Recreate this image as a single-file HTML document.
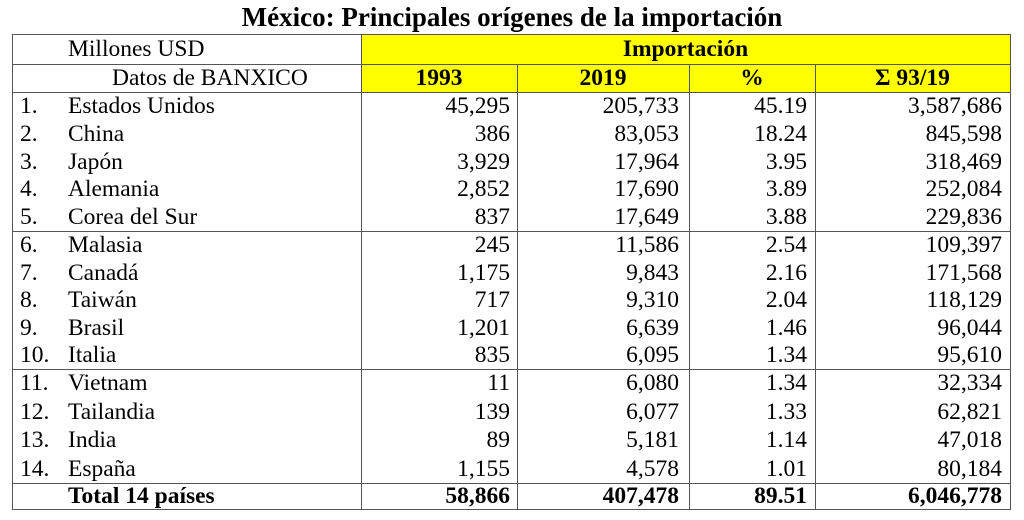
<!DOCTYPE html>
<html><head><meta charset="utf-8"><style>
body{margin:0;width:1024px;height:520px;background:#fff;font-family:"Liberation Serif",serif;color:#000;position:relative;overflow:hidden}
.t{position:absolute;top:0px;left:0;width:1024px;text-align:center;font-weight:bold;font-size:27px;line-height:34px}
.h{position:absolute;height:1px;background:#555}
.v{position:absolute;width:1px;background:#555}
.r{position:absolute;left:0;width:1024px;font-size:23.5px;white-space:nowrap}
.r span{position:absolute;top:0}
.a{left:20px}.b{left:68px}
.c1{right:514px}.c2{right:345px}.c3{right:217px}.c4{right:22px}
.cc{text-align:center;font-weight:bold}
</style></head><body>
<div class="t">México: Principales orígenes de la importación</div>
<div style="position:absolute;left:361px;top:34px;width:649px;height:58px;background:#ffff00"></div>
<div class="h" style="left:12px;width:999px;top:34px"></div>
<div class="h" style="left:12px;width:999px;top:64px"></div>
<div class="h" style="left:12px;width:999px;top:92px"></div>
<div class="h" style="left:12px;width:999px;top:231px"></div>
<div class="h" style="left:12px;width:999px;top:369px"></div>
<div class="h" style="left:12px;width:999px;top:483px"></div>
<div class="h" style="left:12px;width:999px;top:509px"></div>
<div class="v" style="left:12px;top:34px;height:476px"></div>
<div class="v" style="left:361px;top:34px;height:476px"></div>
<div class="v" style="left:517px;top:64px;height:446px"></div>
<div class="v" style="left:689px;top:64px;height:446px"></div>
<div class="v" style="left:815px;top:64px;height:446px"></div>
<div class="v" style="left:1010px;top:34px;height:476px"></div>

<div class="r" style="top:34px;height:30px;line-height:30px"><span style="left:68px">Millones USD</span><span class="cc" style="left:361px;width:649px">Importación</span></div>
<div class="r" style="top:64px;height:28px;line-height:28px"><span style="left:112px">Datos de BANXICO</span><span class="cc" style="left:361px;width:156px">1993</span><span class="cc" style="left:517px;width:172px">2019</span><span class="cc" style="left:689px;width:126px">%</span><span class="cc" style="left:815px;width:195px">Σ 93/19</span></div>

<div class="r" style="top:92px;line-height:28px"><span class="a">1.</span><span class="b">Estados Unidos</span><span class="c1">45,295</span><span class="c2">205,733</span><span class="c3">45.19</span><span class="c4">3,587,686</span></div>
<div class="r" style="top:119.8px;line-height:28px"><span class="a">2.</span><span class="b">China</span><span class="c1">386</span><span class="c2">83,053</span><span class="c3">18.24</span><span class="c4">845,598</span></div>
<div class="r" style="top:147.6px;line-height:28px"><span class="a">3.</span><span class="b">Japón</span><span class="c1">3,929</span><span class="c2">17,964</span><span class="c3">3.95</span><span class="c4">318,469</span></div>
<div class="r" style="top:175.4px;line-height:28px"><span class="a">4.</span><span class="b">Alemania</span><span class="c1">2,852</span><span class="c2">17,690</span><span class="c3">3.89</span><span class="c4">252,084</span></div>
<div class="r" style="top:203.2px;line-height:28px"><span class="a">5.</span><span class="b">Corea del Sur</span><span class="c1">837</span><span class="c2">17,649</span><span class="c3">3.88</span><span class="c4">229,836</span></div>
<div class="r" style="top:231px;line-height:28px"><span class="a">6.</span><span class="b">Malasia</span><span class="c1">245</span><span class="c2">11,586</span><span class="c3">2.54</span><span class="c4">109,397</span></div>
<div class="r" style="top:258.6px;line-height:28px"><span class="a">7.</span><span class="b">Canadá</span><span class="c1">1,175</span><span class="c2">9,843</span><span class="c3">2.16</span><span class="c4">171,568</span></div>
<div class="r" style="top:286.2px;line-height:28px"><span class="a">8.</span><span class="b">Taiwán</span><span class="c1">717</span><span class="c2">9,310</span><span class="c3">2.04</span><span class="c4">118,129</span></div>
<div class="r" style="top:313.8px;line-height:28px"><span class="a">9.</span><span class="b">Brasil</span><span class="c1">1,201</span><span class="c2">6,639</span><span class="c3">1.46</span><span class="c4">96,044</span></div>
<div class="r" style="top:341.4px;line-height:28px"><span class="a">10.</span><span class="b">Italia</span><span class="c1">835</span><span class="c2">6,095</span><span class="c3">1.34</span><span class="c4">95,610</span></div>
<div class="r" style="top:369px;line-height:29px"><span class="a">11.</span><span class="b">Vietnam</span><span class="c1">11</span><span class="c2">6,080</span><span class="c3">1.34</span><span class="c4">32,334</span></div>
<div class="r" style="top:397.5px;line-height:29px"><span class="a">12.</span><span class="b">Tailandia</span><span class="c1">139</span><span class="c2">6,077</span><span class="c3">1.33</span><span class="c4">62,821</span></div>
<div class="r" style="top:426px;line-height:29px"><span class="a">13.</span><span class="b">India</span><span class="c1">89</span><span class="c2">5,181</span><span class="c3">1.14</span><span class="c4">47,018</span></div>
<div class="r" style="top:454.5px;line-height:29px"><span class="a">14.</span><span class="b">España</span><span class="c1">1,155</span><span class="c2">4,578</span><span class="c3">1.01</span><span class="c4">80,184</span></div>
<div class="r" style="top:483px;line-height:27px;font-weight:bold"><span class="b">Total 14 países</span><span class="c1">58,866</span><span class="c2">407,478</span><span class="c3">89.51</span><span class="c4">6,046,778</span></div>
</body></html>
